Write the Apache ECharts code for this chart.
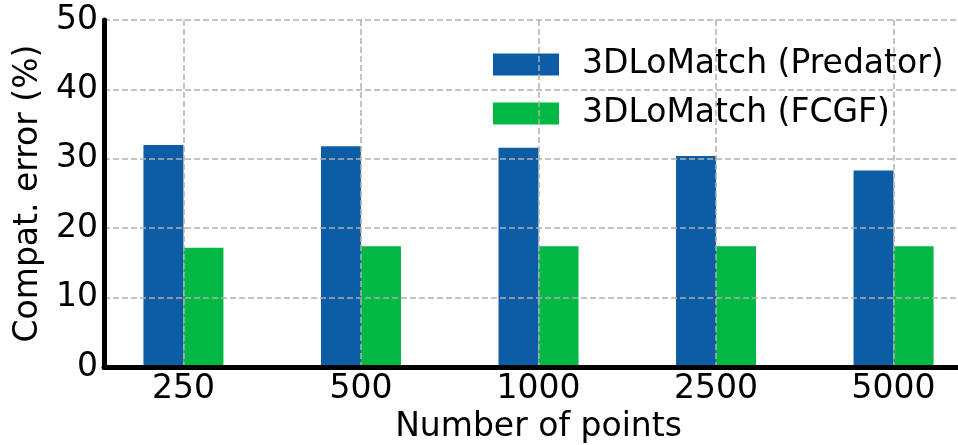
<!DOCTYPE html>
<html>
<head>
<meta charset="utf-8">
<script src="https://cdn.jsdelivr.net/npm/echarts@6/dist/echarts.min.js"></script>
<style>
  html, body { margin: 0; padding: 0; background: #fff; }
  #chart { width: 958px; height: 445px; }
</style>
</head>
<body>
<div id="chart"></div>
<script>
var categories = ['250', '500', '1000', '2500', '5000'];
var predator = [32.0, 31.8, 31.6, 30.4, 28.3];
var fcgf = [17.2, 17.4, 17.4, 17.4, 17.4];
var seriesNames = ['3DLoMatch (Predator)', '3DLoMatch (FCGF)'];

var positions = categories.map(function (c, i) { return i; });
var font = 'DejaVu Sans';

function toPoints(vals) {
  return vals.map(function (v, i) { return [positions[i], v]; });
}

var chart = echarts.init(document.getElementById('chart'));
chart.setOption({
  backgroundColor: '#fff',
  animation: false,
  grid: { left: 104, top: 20, bottom: 78, right: -15, containLabel: false, outerBoundsMode: 'none' },
  legend: {
    left: 488,
    top: 43,
    orient: 'vertical',
    icon: 'rect',
    itemWidth: 66,
    itemHeight: 22,
    itemGap: 16,
    textStyle: { fontFamily: font, fontSize: 33, color: '#000', lineHeight: 33, padding: [0, 0, 0, 18] },
    data: seriesNames
  },
  xAxis: {
    type: 'value',
    min: -0.4475,
    max: 4.4475,
    z: 10,
    name: 'Number of points',
    nameLocation: 'middle',
    nameGap: 42,
    nameTextStyle: { fontFamily: font, fontSize: 33, color: '#000' },
    axisLine: { lineStyle: { color: '#000', width: 5 } },
    axisTick: { show: false, customValues: positions },
    axisLabel: {
      customValues: positions,
      margin: 6,
      fontFamily: font, fontSize: 33, color: '#000',
      formatter: function (v) { return categories[Math.round(v)]; }
    },
    splitLine: { show: true, lineStyle: { color: '#b0b0b0', width: 1.5, type: [6, 3] } }
  },
  yAxis: {
    type: 'value',
    min: 0,
    max: 50,
    interval: 10,
    z: 10,
    name: 'Compat. error (%)',
    nameLocation: 'middle',
    nameGap: 55,
    nameTextStyle: { fontFamily: font, fontSize: 33, color: '#000' },
    axisLine: { show: true, onZero: false, lineStyle: { color: '#000', width: 5 } },
    axisTick: { show: false },
    axisLabel: { margin: 6, fontFamily: font, fontSize: 33, color: '#000' },
    splitLine: { show: true, lineStyle: { color: '#b0b0b0', width: 1.5, type: [6, 3] } }
  },
  series: [
    {
      name: seriesNames[0],
      type: 'bar',
      barWidth: 40,
      barGap: '0%',
      itemStyle: { color: '#0C5DA5' },
      data: toPoints(predator)
    },
    {
      name: seriesNames[1],
      type: 'bar',
      barWidth: 40,
      barGap: '0%',
      itemStyle: { color: '#00B945' },
      data: toPoints(fcgf)
    }
  ]
});
</script>
</body>
</html>
